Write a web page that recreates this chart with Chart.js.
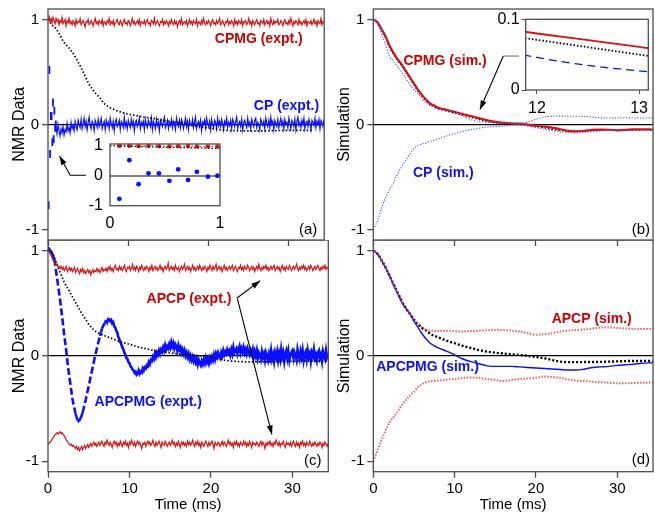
<!DOCTYPE html>
<html>
<head>
<meta charset="utf-8">
<script src="https://cdn.jsdelivr.net/npm/chart.js@4.4.1/dist/chart.umd.min.js"></script>
<style>
  body { margin: 0; background: #fff; }
  #fig { position: relative; width: 655px; height: 514px; overflow: hidden; }
  #fig canvas { position: absolute; }
</style>
</head>
<body>
<div id="fig">
  <canvas id="panelA" width="330" height="250" style="left:0;top:0"></canvas>
  <canvas id="panelC" width="330" height="274" style="left:0;top:240px"></canvas>
  <canvas id="panelB" width="325" height="250" style="left:330px;top:0"></canvas>
  <canvas id="panelD" width="325" height="274" style="left:330px;top:240px"></canvas>
  <canvas id="insetA" width="150" height="100" style="left:80px;top:135px"></canvas>
  <canvas id="insetB" width="175" height="110" style="left:480px;top:10px"></canvas>
</div>
<script>
// ---- datos ----
// trazas medidas: una muestra cada 0.125 ms desde t = 0
const exptStep = 0.125;

// (a) CPMG medido
const cpmgExpt = [
  1.00, 1.03, 0.98, 1.01, 0.97, 1.02, 0.99, 0.96, 1.01, 0.98, 1.00, 0.95,
  0.99, 0.97, 1.02, 0.96, 0.98, 1.00, 0.94, 0.99, 0.97, 1.01, 0.96, 0.98,
  0.95, 0.99, 0.97, 0.94, 1.00, 0.96, 0.98, 0.97, 1.01, 0.95, 0.97, 0.99,
  0.96, 0.93, 0.98, 0.97, 1.00, 0.95, 0.96, 0.99, 0.97, 0.94, 0.98, 1.01,
  0.96, 0.98, 0.95, 0.99, 0.97, 0.96, 1.00, 0.94, 0.98, 0.97, 0.95, 0.99,
  0.97, 1.01, 0.95, 0.98, 0.96, 0.99, 0.94, 0.97, 0.98, 1.00, 0.96, 0.95,
  0.99, 0.97, 0.94, 0.98, 1.00, 0.96, 0.97, 0.95, 0.99, 0.98, 0.94, 0.97,
  1.01, 0.96, 0.98, 0.95, 0.97, 0.99, 0.96, 1.00, 0.94, 0.98, 0.97, 0.96,
  0.99, 0.95, 0.98, 1.00, 0.96, 0.97, 0.94, 0.99, 0.98, 0.96, 1.01, 0.95,
  0.97, 0.99, 0.96, 0.94, 0.98, 0.97, 1.00, 0.95, 0.98, 0.96, 0.99, 0.97,
  0.94, 0.98, 0.96, 1.00, 0.97, 0.95, 0.99, 0.96, 0.98, 0.93, 0.97, 0.99,
  0.96, 1.01, 0.95, 0.97, 0.98, 0.96, 0.99, 0.94, 0.97, 1.00, 0.96, 0.98,
  0.95, 0.99, 0.97, 0.96, 1.00, 0.94, 0.98, 0.97, 0.95, 0.99, 0.96, 1.01,
  0.97, 0.95, 0.98, 0.96, 0.99, 0.97, 0.94, 0.98, 1.00, 0.96, 0.97, 0.95,
  0.99, 0.96, 0.98, 1.01, 0.95, 0.97, 0.99, 0.96, 0.94, 0.98, 0.97, 1.00,
  0.95, 0.98, 0.96, 0.99, 0.97, 0.94, 1.00, 0.96, 0.98, 0.95, 0.99, 0.97,
  0.96, 1.00, 0.94, 0.98, 0.97, 0.99, 0.95, 0.97, 1.01, 0.96, 0.98, 0.94,
  0.99, 0.97, 0.95, 0.98, 1.00, 0.96, 0.97, 0.94, 0.99, 0.98, 0.96, 1.00,
  0.95, 0.97, 0.99, 0.96, 0.98, 0.94, 1.01, 0.97, 0.95, 0.99, 0.96, 0.98,
  0.97, 1.00, 0.95, 0.96, 0.99, 0.97, 0.94, 0.98, 1.00, 0.96, 0.97, 0.95,
  0.99, 0.96, 1.01, 0.97, 0.94, 0.98, 0.96, 0.99, 0.97, 0.95, 1.00, 0.96,
  0.98, 0.95, 0.97, 0.99, 0.96, 1.00, 0.94, 0.98, 0.97, 0.96, 0.99, 0.95,
  0.97, 1.00, 0.96, 0.98, 0.94, 0.99, 0.97, 0.96, 1.01, 0.95, 0.98, 0.97
];

// (a) CP medido (el primer milisegundo va aparte, como puntos)
const cpExpt = [
  null, null, null, null, null, null, null, null, -0.03, -0.09, 0.00, -0.06,
  -0.11, -0.04, -0.08, -0.02, -0.10, -0.05, -0.07, 0.01, -0.06, -0.03, -0.08, 0.02,
  -0.04, -0.01, -0.06, 0.03, -0.02, -0.05, 0.04, 0.00, -0.03, 0.05, -0.04, 0.01,
  0.06, -0.02, 0.03, -0.05, 0.02, 0.07, -0.01, -0.04, 0.03, 0.00, -0.06, 0.04,
  0.01, -0.03, 0.05, -0.02, 0.02, 0.06, -0.04, 0.00, 0.03, -0.05, 0.04, -0.01,
  0.02, -0.04, 0.06, 0.01, -0.03, 0.03, -0.06, 0.02, 0.05, -0.02, 0.00, 0.04,
  -0.05, 0.03, 0.01, -0.03, 0.07, -0.02, 0.02, -0.04, 0.04, 0.00, -0.03, 0.05,
  -0.01, 0.03, -0.06, 0.02, 0.04, -0.02, 0.01, 0.06, -0.04, 0.02, -0.01, 0.03,
  -0.05, 0.05, 0.00, -0.03, 0.04, 0.01, -0.02, 0.06, -0.05, 0.03, 0.00, -0.04,
  0.05, -0.01, 0.02, -0.06, 0.04, 0.01, -0.02, 0.03, 0.07, -0.03, 0.00, 0.04,
  -0.04, 0.02, -0.01, 0.05, -0.03, 0.03, 0.00, -0.05, 0.06, 0.01, -0.02, 0.04,
  -0.03, 0.05, 0.02, -0.04, 0.01, 0.06, -0.02, 0.03, -0.05, 0.04, 0.00, -0.01,
  0.05, -0.03, 0.02, 0.07, -0.04, 0.01, 0.03, -0.02, 0.04, -0.06, 0.02, 0.00,
  0.04, -0.03, 0.06, 0.01, -0.02, 0.03, -0.05, 0.05, 0.00, -0.03, 0.04, 0.02,
  -0.04, 0.06, -0.01, 0.03, -0.02, 0.05, 0.01, -0.05, 0.03, 0.00, 0.06, -0.03,
  0.02, -0.01, 0.04, -0.04, 0.05, 0.02, -0.02, 0.03, 0.07, -0.04, 0.01, 0.03,
  -0.02, 0.05, -0.05, 0.02, 0.04, 0.00, -0.03, 0.06, -0.01, 0.02, -0.04, 0.05,
  0.01, -0.02, 0.04, 0.06, -0.03, 0.02, 0.00, -0.05, 0.05, 0.02, -0.01, 0.03,
  -0.04, 0.06, 0.01, -0.02, 0.04, -0.03, 0.07, 0.00, 0.03, -0.05, 0.04, 0.01,
  -0.02, 0.05, -0.03, 0.02, 0.06, -0.01, 0.03, -0.04, 0.05, 0.00, 0.02, -0.03,
  0.06, 0.01, -0.04, 0.04, 0.02, -0.02, 0.05, -0.05, 0.03, 0.07, -0.01, 0.02,
  -0.03, 0.04, 0.00, 0.06, -0.04, 0.02, 0.03, -0.02, 0.05, 0.01, -0.05, 0.04,
  0.02, -0.01, 0.06, -0.03, 0.03, 0.00, 0.05, -0.04, 0.04, 0.02, -0.02, 0.05
];

// primer milisegundo (ecos individuales)
const earlyT = [0.085, 0.176, 0.26, 0.35, 0.445, 0.54, 0.62, 0.71, 0.79, 0.89, 0.976];
const cpEarly = [-0.77, 0.52, -0.28, 0.08, 0.08, -0.17, 0.21, -0.14, 0.13, -0.03, 0.0];
const cpmgEarly = [1.0, 1.0, 0.99, 1.0, 0.99, 0.98, 0.99, 0.99, 0.98, 0.98, 0.98];

// (c) APCP medido, rama superior e inferior
const apcpUpExpt = [
  1.00, 0.99, 0.97, 0.95, 0.93, 0.91, 0.89, 0.88, 0.86, 0.87, 0.84, 0.85,
  0.83, 0.85, 0.82, 0.84, 0.81, 0.83, 0.85, 0.80, 0.82, 0.84, 0.81, 0.83,
  0.80, 0.82, 0.84, 0.79, 0.81, 0.83, 0.80, 0.78, 0.82, 0.80, 0.83, 0.79,
  0.81, 0.78, 0.80, 0.82, 0.79, 0.81, 0.77, 0.80, 0.82, 0.79, 0.81, 0.80,
  0.83, 0.80, 0.82, 0.79, 0.81, 0.84, 0.80, 0.82, 0.81, 0.83, 0.80, 0.84,
  0.82, 0.85, 0.81, 0.83, 0.80, 0.84, 0.86, 0.82, 0.83, 0.81, 0.85, 0.82,
  0.84, 0.81, 0.83, 0.86, 0.82, 0.80, 0.84, 0.83, 0.85, 0.81, 0.83, 0.87,
  0.82, 0.84, 0.81, 0.85, 0.83, 0.80, 0.84, 0.82, 0.86, 0.83, 0.81, 0.84,
  0.82, 0.85, 0.83, 0.80, 0.84, 0.82, 0.86, 0.81, 0.83, 0.85, 0.82, 0.84,
  0.81, 0.83, 0.86, 0.82, 0.84, 0.80, 0.83, 0.85, 0.82, 0.84, 0.88, 0.81,
  0.83, 0.85, 0.82, 0.84, 0.81, 0.86, 0.83, 0.82, 0.84, 0.80, 0.83, 0.85,
  0.82, 0.84, 0.87, 0.81, 0.83, 0.85, 0.82, 0.84, 0.80, 0.83, 0.86, 0.82,
  0.84, 0.81, 0.83, 0.85, 0.82, 0.86, 0.83, 0.81, 0.84, 0.82, 0.85, 0.83,
  0.80, 0.84, 0.82, 0.86, 0.83, 0.81, 0.85, 0.82, 0.84, 0.87, 0.81, 0.83,
  0.85, 0.82, 0.84, 0.80, 0.83, 0.86, 0.82, 0.84, 0.81, 0.83, 0.85, 0.82,
  0.84, 0.86, 0.81, 0.83, 0.85, 0.82, 0.80, 0.84, 0.83, 0.86, 0.82, 0.84,
  0.81, 0.85, 0.83, 0.82, 0.86, 0.84, 0.81, 0.83, 0.85, 0.82, 0.84, 0.80,
  0.83, 0.85, 0.82, 0.87, 0.83, 0.81, 0.84, 0.82, 0.85, 0.83, 0.86, 0.82,
  0.84, 0.81, 0.83, 0.85, 0.82, 0.84, 0.86, 0.81, 0.83, 0.85, 0.82, 0.84,
  0.80, 0.83, 0.86, 0.82, 0.84, 0.81, 0.85, 0.83, 0.82, 0.86, 0.84, 0.81,
  0.83, 0.85, 0.82, 0.84, 0.87, 0.83, 0.81, 0.84, 0.82, 0.85, 0.83, 0.86,
  0.82, 0.84, 0.81, 0.83, 0.85, 0.82, 0.86, 0.84, 0.81, 0.83, 0.85, 0.82,
  0.84, 0.86, 0.83, 0.81, 0.84, 0.82, 0.85, 0.83, 0.86, 0.82, 0.84, 0.83
];
const apcpDownExpt = [
  -0.84, -0.83, -0.82, -0.81, -0.79, -0.78, -0.76, -0.75, -0.74, -0.73, -0.74, -0.73,
  -0.72, -0.74, -0.73, -0.75, -0.76, -0.78, -0.80, -0.81, -0.83, -0.84, -0.85, -0.84,
  -0.86, -0.85, -0.87, -0.88, -0.86, -0.89, -0.87, -0.90, -0.88, -0.86, -0.89, -0.87,
  -0.85, -0.88, -0.86, -0.84, -0.87, -0.85, -0.83, -0.86, -0.84, -0.82, -0.85, -0.83,
  -0.86, -0.84, -0.82, -0.85, -0.83, -0.81, -0.84, -0.86, -0.82, -0.84, -0.80, -0.83,
  -0.85, -0.82, -0.84, -0.87, -0.83, -0.81, -0.84, -0.82, -0.86, -0.83, -0.85, -0.81,
  -0.84, -0.86, -0.82, -0.84, -0.81, -0.85, -0.83, -0.87, -0.82, -0.84, -0.80, -0.83,
  -0.85, -0.82, -0.86, -0.83, -0.81, -0.84, -0.82, -0.85, -0.88, -0.83, -0.84, -0.82,
  -0.86, -0.83, -0.81, -0.84, -0.82, -0.85, -0.83, -0.80, -0.84, -0.86, -0.82, -0.85,
  -0.83, -0.81, -0.84, -0.87, -0.82, -0.84, -0.85, -0.81, -0.83, -0.86, -0.84, -0.82,
  -0.85, -0.83, -0.80, -0.84, -0.82, -0.86, -0.83, -0.85, -0.81, -0.84, -0.87, -0.82,
  -0.84, -0.82, -0.85, -0.83, -0.86, -0.81, -0.84, -0.82, -0.85, -0.83, -0.80, -0.84,
  -0.86, -0.82, -0.84, -0.81, -0.85, -0.83, -0.87, -0.82, -0.84, -0.86, -0.83, -0.81,
  -0.84, -0.86, -0.82, -0.85, -0.83, -0.81, -0.84, -0.88, -0.82, -0.84, -0.85, -0.82,
  -0.83, -0.86, -0.84, -0.81, -0.85, -0.82, -0.84, -0.86, -0.83, -0.80, -0.84, -0.82,
  -0.85, -0.83, -0.87, -0.82, -0.84, -0.81, -0.85, -0.83, -0.86, -0.82, -0.84, -0.85,
  -0.81, -0.84, -0.82, -0.86, -0.83, -0.85, -0.81, -0.84, -0.87, -0.82, -0.84, -0.83,
  -0.85, -0.82, -0.84, -0.86, -0.83, -0.81, -0.85, -0.82, -0.84, -0.88, -0.83, -0.85,
  -0.82, -0.84, -0.81, -0.85, -0.83, -0.86, -0.82, -0.84, -0.80, -0.83, -0.85, -0.82,
  -0.86, -0.83, -0.84, -0.81, -0.85, -0.87, -0.82, -0.84, -0.83, -0.85, -0.82, -0.86,
  -0.83, -0.81, -0.84, -0.86, -0.82, -0.85, -0.83, -0.87, -0.82, -0.84, -0.81, -0.85,
  -0.83, -0.86, -0.82, -0.84, -0.85, -0.81, -0.84, -0.86, -0.83, -0.85, -0.82, -0.84,
  -0.86, -0.83, -0.85, -0.82, -0.84, -0.87, -0.83, -0.85, -0.82, -0.84, -0.86, -0.83
];

// (c) APCPMG medido
const apcpmgExpt = [
  1.03, 1.02, 1.00, 0.99, 0.97, 0.95, 0.92, 0.87, 0.80, 0.73, 0.66, 0.59,
  0.52, 0.44, 0.36, 0.28, 0.19, 0.12, 0.04, -0.05, -0.13, -0.20, -0.27, -0.34,
  -0.41, -0.46, -0.50, -0.55, -0.58, -0.61, -0.62, -0.61, -0.59, -0.57, -0.54, -0.50,
  -0.46, -0.42, -0.37, -0.33, -0.29, -0.24, -0.19, -0.15, -0.10, -0.06, -0.01, 0.03,
  0.07, 0.11, 0.15, 0.19, 0.22, 0.26, 0.28, 0.30, 0.31, 0.34, 0.32, 0.35,
  0.35, 0.33, 0.34, 0.31, 0.32, 0.28, 0.27, 0.24, 0.22, 0.18, 0.16, 0.13,
  0.11, 0.08, 0.06, 0.03, 0.01, -0.02, -0.03, -0.06, -0.07, -0.10, -0.11, -0.13,
  -0.14, -0.16, -0.15, -0.18, -0.17, -0.14, -0.17, -0.15, -0.16, -0.12, -0.14, -0.11,
  -0.12, -0.09, -0.10, -0.06, -0.08, -0.04, -0.05, -0.01, -0.03, 0.02, -0.01, 0.03,
  0.01, 0.05, 0.02, 0.06, 0.04, 0.08, 0.05, 0.10, 0.06, 0.09, 0.07, 0.11,
  0.08, 0.13, 0.09, 0.12, 0.07, 0.11, 0.09, 0.05, 0.10, 0.06, 0.08, 0.03,
  0.06, 0.02, 0.05, 0.00, 0.03, -0.01, 0.02, -0.03, 0.00, -0.04, -0.01, -0.05,
  -0.02, -0.06, -0.03, -0.08, -0.04, -0.07, -0.09, -0.05, -0.08, -0.04, -0.07, -0.02,
  -0.06, -0.03, -0.07, -0.02, -0.05, -0.01, -0.04, 0.01, -0.03, 0.02, -0.01, 0.03,
  0.00, -0.02, 0.03, 0.00, 0.05, 0.01, 0.04, 0.02, 0.06, 0.03, 0.05, 0.01,
  0.06, 0.02, 0.08, 0.03, 0.05, 0.07, 0.02, 0.06, 0.09, 0.03, 0.07, 0.04,
  0.08, 0.03, 0.06, 0.02, 0.07, 0.04, 0.01, 0.05, 0.02, 0.06, -0.01, 0.04,
  0.00, 0.05, -0.02, 0.03, 0.01, -0.03, 0.04, -0.01, 0.02, -0.04, 0.03, 0.00,
  -0.04, 0.02, -0.02, 0.05, -0.03, 0.01, -0.05, 0.03, -0.01, 0.04, -0.04, 0.02,
  -0.03, 0.06, -0.01, 0.03, -0.05, 0.02, 0.05, -0.02, 0.04, -0.04, 0.01, 0.03,
  0.05, -0.02, 0.03, 0.00, -0.04, 0.06, 0.01, -0.03, 0.04, -0.01, 0.05, -0.04,
  0.02, 0.04, -0.03, 0.05, -0.01, 0.02, -0.05, 0.03, 0.00, 0.06, -0.02, 0.01,
  -0.04, 0.03, 0.05, -0.02, 0.01, -0.05, 0.04, 0.00, -0.03, 0.05, -0.01, 0.02
];

// simulaciones (ms)
const simT = [0, 0.5, 1, 1.5, 2, 2.5, 3, 3.5, 4, 4.5, 5, 5.5, 6, 6.5, 7, 7.5, 8,
  9, 10, 11, 12, 13, 14, 15, 16, 17, 18, 19, 20, 21, 22, 23, 24, 25, 26, 27, 28, 29, 30, 31, 32, 33,
  34.4];

const decayA = [1.0, 0.95, 0.91, 0.85, 0.78, 0.74, 0.69, 0.63, 0.56, 0.48, 0.40, 0.34, 0.29, 0.25, 0.20, 0.17, 0.15,
  0.12, 0.10, 0.085, 0.07, 0.06, 0.045, 0.03, 0.02, 0.005, -0.01, -0.02, -0.035, -0.045, -0.055, -0.058, -0.06, -0.06, -0.06, -0.06, -0.058, -0.057, -0.055, -0.055, -0.055,
  -0.055];

const cpmgSim = [1.0, 0.975, 0.91, 0.84, 0.75, 0.68, 0.62, 0.57, 0.51, 0.45, 0.39, 0.33, 0.28, 0.235, 0.20, 0.18, 0.16,
  0.14, 0.12, 0.10, 0.08, 0.061, 0.04, 0.025, 0.015, 0.01, 0.008, 0.0, -0.012, -0.02, -0.03, -0.045, -0.06, -0.066, -0.06, -0.052, -0.048, -0.05, -0.055, -0.052, -0.046,
  -0.045, -0.048];
const decayB = [1.0, 0.97, 0.90, 0.83, 0.74, 0.67, 0.61, 0.56, 0.50, 0.44, 0.38, 0.32, 0.27, 0.225, 0.19, 0.17, 0.15,
  0.13, 0.11, 0.09, 0.071, 0.05, 0.03, 0.018, 0.01, 0.005, 0.0, -0.008, -0.018, -0.03, -0.045, -0.055, -0.062, -0.064, -0.06, -0.055, -0.052, -0.052, -0.055, -0.055, -0.052,
  -0.05, -0.05];
const cpSimUp = [1.0, 0.96, 0.87, 0.76, 0.65, 0.60, 0.55, 0.50, 0.44, 0.38, 0.33, 0.29, 0.24, 0.205, 0.18, 0.165, 0.15,
  0.13, 0.11, 0.08, 0.046, 0.027, 0.02, 0.012, 0.008, 0.005, 0.0, -0.015, -0.03, -0.045, -0.06, -0.07, -0.078, -0.08, -0.075, -0.068, -0.062, -0.058, -0.056, -0.056, -0.055,
  -0.055, -0.056];
const cpSimDown = [-1.0, -0.92, -0.80, -0.70, -0.62, -0.55, -0.47, -0.40, -0.34, -0.28, -0.23, -0.20, -0.185, -0.175, -0.16, -0.15, -0.135,
  -0.11, -0.085, -0.065, -0.05, -0.035, -0.025, -0.02, -0.015, -0.008, 0.0, 0.025, 0.05, 0.07, 0.078, 0.08, 0.078, 0.078, 0.076, 0.07, 0.064, 0.062, 0.063, 0.064, 0.062,
  0.062, 0.064];

const decayC = [1.0, 0.98, 0.89, 0.79, 0.70, 0.63, 0.56, 0.49, 0.42, 0.36, 0.30, 0.255, 0.225, 0.205, 0.19, 0.175, 0.16,
  0.13, 0.11, 0.085, 0.068, 0.05, 0.038, 0.027, 0.018, 0.01, 0.004, -0.003, -0.015, -0.03, -0.045, -0.052, -0.056, -0.057, -0.057, -0.057, -0.055, -0.053, -0.052, -0.05, -0.05,
  -0.05, -0.05];

const decayD = [1.0, 0.97, 0.91, 0.84, 0.76, 0.68, 0.60, 0.52, 0.45, 0.40, 0.34, 0.30, 0.265, 0.24, 0.21, 0.19, 0.175,
  0.145, 0.12, 0.095, 0.075, 0.055, 0.04, 0.03, 0.022, 0.015, 0.008, 0.0, -0.01, -0.022, -0.04, -0.055, -0.06, -0.06, -0.059, -0.058, -0.057, -0.055, -0.052, -0.05, -0.049,
  -0.048, -0.048];
const apcpmgSim = [1.0, 0.97, 0.91, 0.84, 0.76, 0.67, 0.59, 0.51, 0.45, 0.40, 0.33, 0.27, 0.21, 0.16, 0.12, 0.095, 0.075,
  0.045, 0.01, -0.03, -0.055, -0.075, -0.095, -0.10, -0.10, -0.10, -0.105, -0.11, -0.115, -0.12, -0.125, -0.13, -0.135, -0.135, -0.125, -0.11, -0.105, -0.10, -0.09, -0.085, -0.08,
  -0.07, -0.065];
const apcpUpSim = [1.0, 0.97, 0.91, 0.84, 0.76, 0.68, 0.60, 0.52, 0.46, 0.40, 0.35, 0.31, 0.27, 0.245, 0.24, 0.237, 0.235,
  0.238, 0.235, 0.23, 0.235, 0.24, 0.243, 0.245, 0.245, 0.24, 0.232, 0.215, 0.20, 0.205, 0.215, 0.23, 0.24, 0.245, 0.25, 0.26, 0.268, 0.27, 0.265, 0.26, 0.257,
  0.255, 0.254];
const apcpDownSim = [-1.0, -0.90, -0.80, -0.71, -0.63, -0.58, -0.53, -0.47, -0.42, -0.38, -0.34, -0.30, -0.27, -0.25, -0.24, -0.238, -0.235,
  -0.225, -0.22, -0.21, -0.205, -0.21, -0.22, -0.23, -0.238, -0.23, -0.22, -0.215, -0.21, -0.196, -0.20, -0.21, -0.225, -0.235, -0.24, -0.245, -0.25, -0.255, -0.26, -0.26, -0.258,
  -0.255, -0.254];

// ticks
const timeTicks = [0, 10, 20, 30];
const valueTicks = [-1, 0, 1];
const insetATicksX = [0, 1];
const insetBTicksX = [12, 13];
const insetBTicksY = [0, 0.1];

// ---- estilo ----
const RED = '#d41414';
const LABEL_RED = '#cc0000';
const BLUE = '#0a10ff';
const FRAME = '#4d4d4d';
const FONT = '"Liberation Sans", Arial, sans-serif';

Chart.defaults.font.family = FONT;
Chart.defaults.color = '#000';
Chart.defaults.animation = false;

// pares {x, y}
function onGrid(vals) {
  return vals.map((v, i) => ({ x: i * exptStep, y: v }));
}
function onTimes(ts, vals) {
  return vals.map((v, i) => ({ x: ts[i], y: v }));
}

// sin margen extra por las etiquetas de los extremos: el área de datos queda fija
function fixedWidth(w) {
  return s => { s.width = w; s.paddingTop = 0; s.paddingBottom = 0; };
}
function fixedHeight(h) {
  return s => { s.height = h; s.paddingLeft = 0; s.paddingRight = 0; };
}

// recuadro completo alrededor del área de datos
const frameBox = {
  id: 'frameBox',
  afterDatasetsDraw(chart) {
    const { ctx, chartArea: a } = chart;
    ctx.save();
    ctx.strokeStyle = FRAME;
    ctx.lineWidth = 1.3;
    ctx.strokeRect(a.left, a.top, a.right - a.left, a.bottom - a.top);
    ctx.restore();
  }
};

// textos y flechas en coordenadas de datos
function notes(labels, arrows) {
  return {
    id: 'notes',
    afterDraw(chart) {
      const { ctx, scales: { x, y } } = chart;
      ctx.save();
      arrows.forEach(a => {
        const pts = a.path.map(([t, v]) => [x.getPixelForValue(t), y.getPixelForValue(v)]);
        ctx.strokeStyle = a.color;
        ctx.lineWidth = 1.1;
        ctx.beginPath();
        pts.forEach(([px, py], i) => i ? ctx.lineTo(px, py) : ctx.moveTo(px, py));
        ctx.stroke();
        if (a.head) {
          const [x0, y0] = pts[pts.length - 2];
          const [x1, y1] = pts[pts.length - 1];
          const ang = Math.atan2(y1 - y0, x1 - x0);
          const c = Math.cos(ang), s = Math.sin(ang);
          ctx.fillStyle = a.color;
          ctx.beginPath();
          ctx.moveTo(x1, y1);
          ctx.lineTo(x1 - 9 * c + 3 * s, y1 - 9 * s - 3 * c);
          ctx.lineTo(x1 - 9 * c - 3 * s, y1 - 9 * s + 3 * c);
          ctx.closePath();
          ctx.fill();
        }
      });
      labels.forEach(l => {
        ctx.font = (l.bold ? 'bold ' : '') + l.size + 'px ' + FONT;
        ctx.fillStyle = l.color;
        ctx.textAlign = 'center';
        ctx.textBaseline = 'middle';
        ctx.fillText(l.text, x.getPixelForValue(l.t), y.getPixelForValue(l.v));
      });
      ctx.restore();
    }
  };
}

function timeAxis(withLabels, height) {
  return {
    type: 'linear', min: 0, max: 34.4,
    afterBuildTicks: s => { s.ticks = timeTicks.map(v => ({ value: v })); },
    afterFit: fixedHeight(height),
    border: { display: false },
    grid: { drawOnChartArea: false, tickLength: 6, tickColor: FRAME, tickWidth: 1.3 },
    ticks: { display: withLabels, padding: 2, maxRotation: 0, font: { size: 15 }, callback: v => String(v) },
    title: { display: withLabels, text: 'Time (ms)', font: { size: 15 }, padding: { top: 0, bottom: 0 } }
  };
}

function valueAxis(width, text, titlePad) {
  return {
    type: 'linear', min: -1.1, max: 1.1,
    afterBuildTicks: s => { s.ticks = valueTicks.map(v => ({ value: v })); },
    afterFit: fixedWidth(width),
    border: { display: false },
    grid: {
      color: c => (c.tick && c.tick.value === 0) ? '#000' : 'rgba(0,0,0,0)',
      lineWidth: 1.3, tickLength: 6, tickColor: FRAME, tickWidth: 1.3
    },
    ticks: { padding: 3, font: { size: 15 }, callback: v => String(v) },
    title: { display: true, text: text, font: { size: 16 }, padding: { top: titlePad, bottom: 0 } }
  };
}

function line(data, color, width, dash, smooth) {
  return {
    data: data, borderColor: color, borderWidth: width, borderDash: dash || [],
    pointRadius: 0, tension: 0, cubicInterpolationMode: smooth ? 'monotone' : 'default'
  };
}

function makeChart(id, datasets, scales, padding, plugins) {
  return new Chart(document.getElementById(id), {
    type: 'line',
    data: { datasets: datasets },
    options: {
      responsive: false,
      animation: false,
      events: [],
      layout: { padding: padding },
      plugins: { legend: { display: false }, tooltip: { enabled: false } },
      scales: scales
    },
    plugins: [frameBox].concat(plugins || [])
  });
}

const DOTS = [1.5, 2];

// (a) experimento CPMG / CP
makeChart('panelA', [
  line(onGrid(cpmgExpt), RED, 1.2),
  line(onTimes(simT, decayA), '#000', 1.7, DOTS, true),
  line(onGrid(cpExpt), BLUE, 1.2),
  {
    data: onTimes(earlyT, cpEarly), showLine: false, pointStyle: 'line', rotation: 90,
    pointRadius: 4, pointBorderWidth: 1.8, pointBorderColor: BLUE, borderColor: BLUE
  }
], { x: timeAxis(false, 10), y: valueAxis(48, 'NMR Data', 10.4) },
{ left: 0, top: 9, right: 1, bottom: 0 },
[notes([
  { text: 'CPMG (expt.)', t: 26.25, v: 0.81, color: LABEL_RED, bold: true, size: 14 },
  { text: 'CP (expt.)', t: 29.7, v: 0.175, color: BLUE, bold: true, size: 14 },
  { text: '(a)', t: 32.4, v: -1.0, color: '#000', size: 15 }
], [
  { path: [[4.72, -0.484], [2.76, -0.484], [1.44, -0.30]], color: '#000', head: true }
])]);

// (b) simulaciones CPMG / CP
makeChart('panelB', [
  line(onTimes(simT, cpSimUp), '#3a55ff', 1.1, [1.2, 1.6], true),
  line(onTimes(simT, cpSimDown), '#3a55ff', 1.1, [1.2, 1.6], true),
  line(onTimes(simT, cpmgSim), RED, 2.2, null, true),
  line(onTimes(simT, decayB), '#000', 1.7, DOTS, true)
], { x: timeAxis(false, 10), y: valueAxis(43.3, 'Simulation', 5.4) },
{ left: 0, top: 9, right: 2, bottom: 0 },
[notes([
  { text: 'CPMG (sim.)', t: 8.82, v: 0.605, color: LABEL_RED, bold: true, size: 14 },
  { text: 'CP (sim.)', t: 8.61, v: -0.461, color: BLUE, bold: true, size: 14 },
  { text: '(b)', t: 32.9, v: -1.0, color: '#000', size: 15 }
], [
  { path: [[17.92, 0.652], [15.99, 0.652]], color: '#777', head: false },
  { path: [[15.99, 0.652], [13.12, 0.143]], color: '#000', head: true }
])]);

// (c) experimento APCP / APCPMG; tramos rápidos a trazos
const steep = c => c.p1.parsed.x < 7.5 && Math.abs(c.p1.parsed.y - c.p0.parsed.y) > 0.03;
makeChart('panelC', [
  line(onGrid(apcpUpExpt), RED, 1.2),
  line(onGrid(apcpDownExpt), RED, 1.2),
  line(onTimes(simT, decayC), '#000', 1.7, DOTS, true),
  Object.assign(line(onGrid(apcpmgExpt), BLUE, 2.6), {
    segment: { borderDash: c => steep(c) ? [7, 3] : undefined }
  })
], { x: timeAxis(true, 42.3), y: valueAxis(48, 'NMR Data', 10.4) },
{ left: 0, top: 0, right: 1.7, bottom: 0 },
[notes([
  { text: 'APCP (expt.)', t: 17.3, v: 0.54, color: LABEL_RED, bold: true, size: 14 },
  { text: 'APCPMG (expt.)', t: 12.3, v: -0.444, color: BLUE, bold: true, size: 14 },
  { text: '(c)', t: 32.5, v: -1.0, color: '#000', size: 15 }
], [
  { path: [[23.17, 0.547], [26.04, 0.714]], color: '#000', head: true },
  { path: [[23.25, 0.54], [27.48, -0.746]], color: '#000', head: true }
])]);

// (d) simulaciones APCP / APCPMG
makeChart('panelD', [
  line(onTimes(simT, apcpUpSim), 'rgba(226,60,60,0.8)', 2, [1.5, 1.5], true),
  line(onTimes(simT, apcpDownSim), 'rgba(226,60,60,0.8)', 2, [1.5, 1.5], true),
  line(onTimes(simT, apcpmgSim), BLUE, 1.4, null, true),
  line(onTimes(simT, decayD), '#000', 2.4, [2, 2], true)
], { x: timeAxis(true, 42.3), y: valueAxis(43.3, 'Simulation', 5.4) },
{ left: 0, top: 0, right: 2, bottom: 0 },
[notes([
  { text: 'APCP (sim.)', t: 26.86, v: 0.35, color: LABEL_RED, bold: true, size: 14 },
  { text: 'APCPMG (sim.)', t: 6.67, v: -0.11, color: BLUE, bold: true, size: 14 },
  { text: '(d)', t: 32.9, v: -0.984, color: '#000', size: 15 }
], [])]);

// recuadro del primer milisegundo en (a)
makeChart('insetA', [
  line(onTimes(simT, decayA), '#000', 1.2, DOTS, true),
  {
    data: onTimes(earlyT, cpmgEarly), borderColor: RED, borderWidth: 1, borderDash: [2, 2],
    pointRadius: 2.2, pointBackgroundColor: RED, pointBorderWidth: 0, clip: 4
  },
  {
    data: onTimes(earlyT, cpEarly), showLine: false,
    pointRadius: 2.4, pointBackgroundColor: BLUE, pointBorderWidth: 0, clip: 4
  }
], {
  x: {
    type: 'linear', min: 0, max: 1,
    afterBuildTicks: s => { s.ticks = insetATicksX.map(v => ({ value: v })); },
    afterFit: fixedHeight(29.3),
    border: { display: false },
    grid: { drawOnChartArea: false, drawTicks: false },
    ticks: { padding: 8, maxRotation: 0, font: { size: 16 }, callback: v => String(v) }
  },
  y: {
    type: 'linear', min: -1, max: 1.06,
    afterBuildTicks: s => { s.ticks = valueTicks.map(v => ({ value: v })); },
    afterFit: fixedWidth(30),
    border: { display: false },
    grid: { color: c => (c.tick && c.tick.value === 0) ? '#808080' : 'rgba(0,0,0,0)', lineWidth: 2, drawTicks: false },
    ticks: { padding: 7, font: { size: 16 }, callback: v => String(v) }
  }
}, { left: 0, top: 9, right: 10, bottom: 0 });

// recuadro ampliado 12-13 ms en (b)
makeChart('insetB', [
  line(onTimes(simT, cpSimUp), BLUE, 1.3, [8, 5], true),
  line(onTimes(simT, decayB), '#000', 1.8, DOTS, true),
  line(onTimes(simT, cpmgSim), RED, 2, null, true)
], {
  x: {
    type: 'linear', min: 11.89, max: 13.09,
    afterBuildTicks: s => { s.ticks = insetBTicksX.map(v => ({ value: v })); },
    afterFit: fixedHeight(30),
    border: { display: false },
    grid: { drawOnChartArea: false, tickLength: 4, tickColor: FRAME },
    ticks: { padding: 5, maxRotation: 0, font: { size: 16 }, callback: v => String(v) }
  },
  y: {
    type: 'linear', min: 0, max: 0.1,
    afterBuildTicks: s => { s.ticks = insetBTicksY.map(v => ({ value: v })); },
    afterFit: fixedWidth(45.7),
    border: { display: false },
    grid: { drawOnChartArea: false, tickLength: 4, tickColor: FRAME },
    ticks: { padding: 2, font: { size: 16 }, callback: v => String(v) }
  }
}, { left: 0, top: 9.3, right: 6.7, bottom: 0 });
</script>
</body>
</html>
